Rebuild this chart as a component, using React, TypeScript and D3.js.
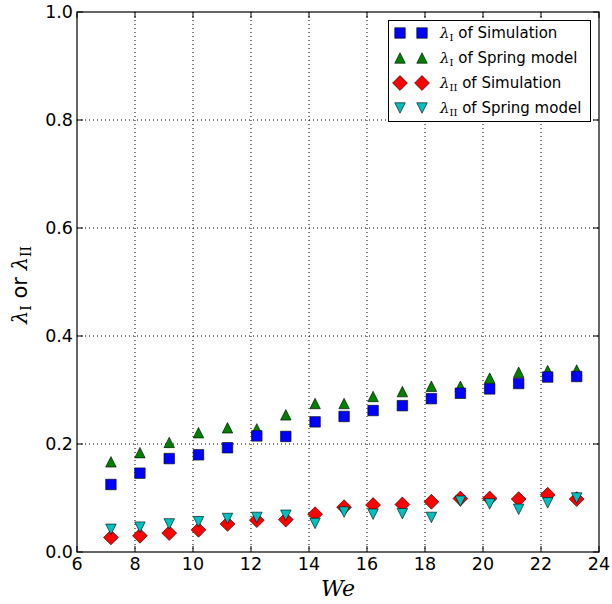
import React from "react";
import * as d3 from "d3";

const weValues = [7.17, 8.17, 9.18, 10.19, 11.19, 12.2, 13.2, 14.21, 15.21, 16.21, 17.22, 18.22, 19.22, 20.23, 21.23, 22.23, 23.23];
const lambda1Sim = [0.125, 0.146, 0.173, 0.180, 0.193, 0.215, 0.214, 0.241, 0.251, 0.262, 0.271, 0.284, 0.294, 0.302, 0.312, 0.324, 0.325];
const lambda1Spring = [0.167, 0.184, 0.203, 0.221, 0.230, 0.228, 0.254, 0.275, 0.275, 0.288, 0.297, 0.307, 0.307, 0.322, 0.333, 0.336, 0.337];
const lambda2Sim = [0.027, 0.030, 0.035, 0.041, 0.052, 0.059, 0.060, 0.070, 0.083, 0.087, 0.088, 0.093, 0.099, 0.099, 0.098, 0.106, 0.098];
const lambda2Spring = [0.042, 0.046, 0.052, 0.056, 0.062, 0.064, 0.068, 0.053, 0.074, 0.070, 0.071, 0.064, 0.094, 0.089, 0.079, 0.091, 0.100];
const xTicks = [6, 8, 10, 12, 14, 16, 18, 20, 22, 24];
const yTicks = [0.0, 0.2, 0.4, 0.6, 0.8, 1.0];

const W = 612, H = 604;
const L = 77, R = 599, T = 12, B = 552;
const x = d3.scaleLinear().domain([6, 24]).range([L, R]);
const y = d3.scaleLinear().domain([0, 1]).range([B, T]);
const M = 10.5;

type Kind = "square" | "up" | "diamond" | "down";
const markerPath = (k: Kind, m: number) => {
  const h = m / 2;
  if (k === "square") return `M${-h},${-h}H${h}V${h}H${-h}Z`;
  if (k === "up") return `M0,${-h}L${h},${h}L${-h},${h}Z`;
  if (k === "down") return `M0,${h}L${h},${-h}L${-h},${-h}Z`;
  const d = (m * Math.SQRT2) / 2;
  return `M0,${-d}L${d},0L0,${d}L${-d},0Z`;
};

const series: { key: string; data: number[]; kind: Kind; color: string }[] = [
  { key: "l1spring", data: lambda1Spring, kind: "up", color: "#008000" },
  { key: "l1sim", data: lambda1Sim, kind: "square", color: "#0000ff" },
  { key: "l2sim", data: lambda2Sim, kind: "diamond", color: "#ff0000" },
  { key: "l2spring", data: lambda2Spring, kind: "down", color: "#00bfbf" },
];

const legendItems: { kind: Kind; color: string; sub: string; text: string }[] = [
  { kind: "square", color: "#0000ff", sub: "I", text: " of Simulation" },
  { kind: "up", color: "#008000", sub: "I", text: " of Spring model" },
  { kind: "diamond", color: "#ff0000", sub: "II", text: " of Simulation" },
  { kind: "down", color: "#00bfbf", sub: "II", text: " of Spring model" },
];

const sans = "'DejaVu Sans', sans-serif";
const serif = "'DejaVu Serif', serif";

export default function App() {
  return (
    <svg width={W} height={H} style={{ position: "absolute", left: 0, top: 0, background: "#fff" }}>
      <rect x={0} y={0} width={W} height={H} fill="#fff" />
      {/* grid */}
      {xTicks.filter((t) => t > 6 && t < 24).map((t) => (
        <line key={"gx" + t} x1={x(t)} x2={x(t)} y1={T} y2={B} stroke="#000" strokeWidth={1} strokeDasharray="1,3" />
      ))}
      {yTicks.filter((t) => t > 0 && t < 1).map((t) => (
        <line key={"gy" + t} x1={L} x2={R} y1={y(t)} y2={y(t)} stroke="#000" strokeWidth={1} strokeDasharray="1,3" />
      ))}
      {/* ticks */}
      {xTicks.map((t) => (
        <g key={"tx" + t}>
          <line x1={x(t)} x2={x(t)} y1={B} y2={B - 6} stroke="#000" />
          <line x1={x(t)} x2={x(t)} y1={T} y2={T + 6} stroke="#000" />
          <text x={x(t)} y={570} textAnchor="middle" fontFamily={sans} fontSize={17.5}>{t}</text>
        </g>
      ))}
      {yTicks.map((t) => (
        <g key={"ty" + t}>
          <line x1={L} x2={L + 6} y1={y(t)} y2={y(t)} stroke="#000" />
          <line x1={R} x2={R - 6} y1={y(t)} y2={y(t)} stroke="#000" />
          <text x={L - 4} y={y(t) + 6} textAnchor="end" fontFamily={sans} fontSize={17.5}>{t.toFixed(1)}</text>
        </g>
      ))}
      {/* markers */}
      {series.map((s) => (
        <g key={s.key}>
          {s.data.map((v, i) => (
            <path key={i} d={markerPath(s.kind, M)} transform={`translate(${x(weValues[i])},${y(v)})`} fill={s.color} stroke="#000" strokeWidth={0.6} />
          ))}
        </g>
      ))}
      <rect x={L} y={T} width={R - L} height={B - T} fill="none" stroke="#000" strokeWidth={1.2} />
      {/* axis labels */}
      <text x={(L + R) / 2} y={596} textAnchor="middle" fontFamily={serif} fontStyle="italic" fontSize={22}>We</text>
      <text transform={`translate(27,${(T + B) / 2 + 3}) rotate(-90)`} textAnchor="middle" fontFamily={sans} fontSize={21}>
        <tspan fontFamily={serif} fontStyle="italic">λ</tspan>
        <tspan fontFamily={serif} fontSize={14} dy={4}>I</tspan>
        <tspan dy={-4}> or </tspan>
        <tspan fontFamily={serif} fontStyle="italic">λ</tspan>
        <tspan fontFamily={serif} fontSize={14} dy={4}>II</tspan>
      </text>
      {/* legend */}
      <rect x={388.5} y={20.5} width={202} height={101} fill="#fff" stroke="#000" strokeWidth={1} />
      {legendItems.map((it, i) => {
        const cy = 33 + i * 25;
        return (
          <g key={"lg" + i}>
            <path d={markerPath(it.kind, M)} transform={`translate(400,${cy})`} fill={it.color} stroke="#000" strokeWidth={0.6} />
            <path d={markerPath(it.kind, M)} transform={`translate(422,${cy})`} fill={it.color} stroke="#000" strokeWidth={0.6} />
            <text x={440} y={cy + 5} fontFamily={sans} fontSize={15}>
              <tspan fontFamily={serif} fontStyle="italic">λ</tspan>
              <tspan fontFamily={serif} fontSize={10} dy={3}>{it.sub}</tspan>
              <tspan dy={-3}>{it.text}</tspan>
            </text>
          </g>
        );
      })}
    </svg>
  );
}
